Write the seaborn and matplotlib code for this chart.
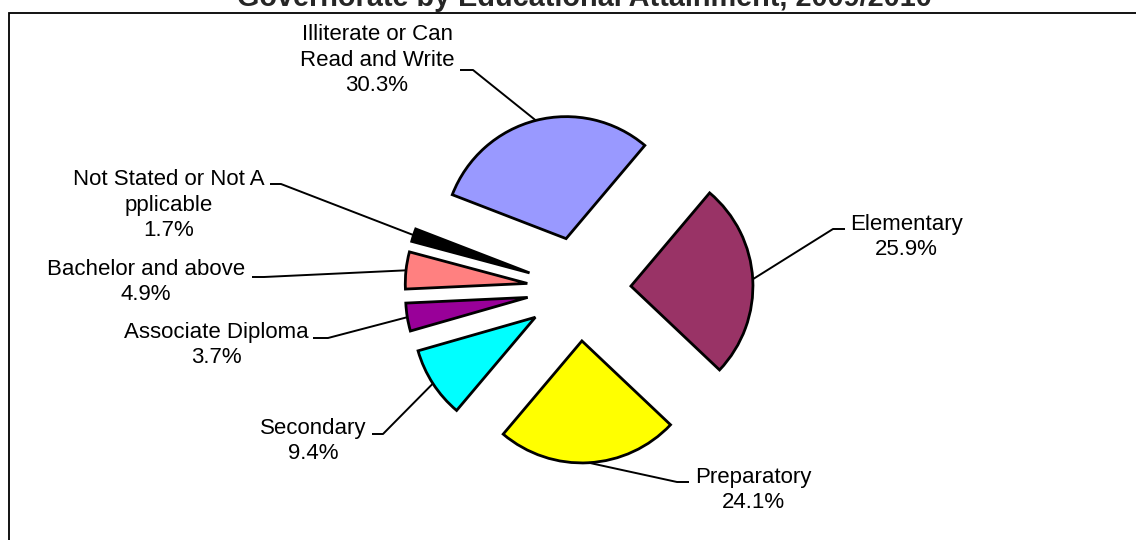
import numpy as np
import matplotlib
matplotlib.use("Agg")
import matplotlib.pyplot as plt
from matplotlib.patches import Rectangle
import seaborn as sns

# data
categories = ["Illiterate or Can\nRead and Write", "Elementary", "Preparatory",
              "Secondary", "Associate Diploma", "Bachelor and above",
              "Not Stated or Not A\npplicable"]
shares = [30.3, 25.9, 24.1, 9.4, 3.7, 4.9, 1.7]
slice_colors = ["#9999FF", "#993366", "#FFFF00", "#00FFFF", "#990099", "#FF8080", "#000000"]
title = "Governorate by Educational Attainment, 2009/2010"

# layout (pixels in the 1136x540 picture)
W, H = 1136, 540
CX, CY, R = 579, 289, 122          # pie centre and radius
label_pos = [(377, 91), (906, 255), (753, 508), (313, 459),
             (216, 363), (146, 300), (169, 236)]   # last line baseline
leader_start = [(460, 70), (845, 229), (689, 482), (372, 434),
                (313, 338), (252, 277), (270, 184)]
leader_stub = [(473, 70), (833, 229), (677, 482), (383, 434),
               (328, 338), (264, 277), (281, 184)]


def to_data(px, py):
    return (px - CX) / R, (CY - py) / R


sns.set_theme(style="white")
plt.rcParams["font.family"] = ["Liberation Sans", "DejaVu Sans"]

fig = plt.figure(figsize=(W / 100, H / 100), dpi=100)
ax = fig.add_axes([0, 0, 1, 1])

wedges, _ = ax.pie(shares, colors=sns.color_palette(slice_colors),
                   explode=[52 / R] * len(shares), startangle=158.9,
                   counterclock=False, radius=1,
                   wedgeprops=dict(edgecolor="black", linewidth=2.0))

# pie() resets the limits, so set them afterwards
ax.set_xlim(to_data(0, 0)[0], to_data(W, 0)[0])
ax.set_ylim(to_data(0, H)[1], to_data(0, 0)[1])
ax.axis("off")

for i, w in enumerate(wedges):
    name = categories[i]
    txt = f"{name}\n{shares[i]:.1f}%"
    ax.text(*to_data(*label_pos[i]), txt, ha="center", va="baseline",
            fontsize=16, linespacing=1.27, color="black")
    # leader line to the middle of the outer arc
    tm = np.deg2rad((w.theta1 + w.theta2) / 2)
    ex = w.center[0] + w.r * np.cos(tm)
    ey = w.center[1] + w.r * np.sin(tm)
    p0 = to_data(*leader_start[i])
    p1 = to_data(*leader_stub[i])
    ax.plot([p0[0], p1[0], ex], [p0[1], p1[1], ey], color="black", lw=1.4,
            solid_capstyle="butt")

# chart border
fig.add_artist(Rectangle((9 / W, -0.05), 1.1, (H - 12.5) / H + 0.05,
                         transform=fig.transFigure, fill=False,
                         edgecolor="black", linewidth=1.3))

fig.text(584 / W, 1 - 6 / H, title, ha="center", va="baseline",
         fontsize=20.8, fontweight="bold")

fig.savefig("out.png", dpi=100)
